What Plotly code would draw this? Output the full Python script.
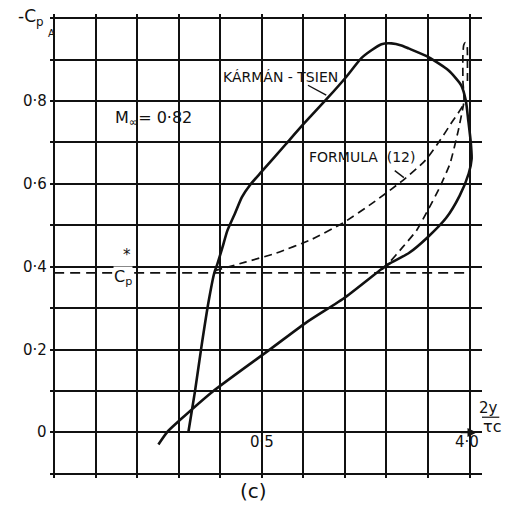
import plotly.graph_objects as go

# ---- data ----
kt_x = [0.323, 0.339, 0.354, 0.372, 0.385, 0.393, 0.405, 0.417, 0.435, 0.452, 0.472, 0.500,
        0.557, 0.600, 0.659, 0.703, 0.739, 0.763, 0.788, 0.812, 0.836, 0.853, 0.901, 0.949,
        0.980, 0.991, 0.997, 1.003, 1.005, 0.998, 0.976, 0.944, 0.898, 0.854, 0.806, 0.789,
        0.702, 0.605, 0.523, 0.382, 0.304, 0.273, 0.251]
kt_y = [0.000, 0.099, 0.203, 0.317, 0.383, 0.407, 0.446, 0.487, 0.528, 0.568, 0.598, 0.630,
        0.695, 0.744, 0.808, 0.858, 0.903, 0.922, 0.937, 0.939, 0.934, 0.927, 0.906, 0.874,
        0.838, 0.801, 0.753, 0.700, 0.660, 0.625, 0.571, 0.518, 0.470, 0.433, 0.407, 0.395,
        0.327, 0.264, 0.203, 0.099, 0.031, 0.002, -0.029]

f12_x = [0.385, 0.460, 0.535, 0.620, 0.696, 0.767, 0.839, 0.893, 0.929, 0.955, 0.986,
         0.984, 0.984, 0.986, 0.990, 0.994, 0.995, 0.995]
f12_y = [0.390, 0.411, 0.433, 0.466, 0.506, 0.554, 0.608, 0.656, 0.705, 0.745, 0.794,
         0.850, 0.910, 0.935, 0.941, 0.935, 0.890, 0.838]

f12b_x = [0.789, 0.806, 0.838, 0.872, 0.899, 0.928, 0.953, 0.973, 0.986]
f12b_y = [0.393, 0.409, 0.446, 0.487, 0.535, 0.591, 0.649, 0.729, 0.794]

cp_star = 0.385
x_span = [0.0, 1.0]

y_tick_vals = [0.0, 0.2, 0.4, 0.6, 0.8]
y_tick_text = ["0", "0·2", "0·4", "0·6", "0·8"]
x_tick_vals = [0.5, 0.995]
x_tick_text = ["0·5", "4·0"]

FONT = "DejaVu Sans"
INK = "#111111"

fig = go.Figure()

fig.add_trace(go.Scatter(x=x_span, y=[cp_star, cp_star], mode="lines",
                         line=dict(color=INK, width=1.8, dash="10px,6px"),
                         hoverinfo="skip", showlegend=False))
fig.add_trace(go.Scatter(x=kt_x, y=kt_y, mode="lines",
                         line=dict(color=INK, width=2.6, shape="spline", smoothing=0.6),
                         showlegend=False))
fig.add_trace(go.Scatter(x=f12_x, y=f12_y, mode="lines",
                         line=dict(color=INK, width=1.7, dash="8px,5px", shape="spline", smoothing=0.5),
                         showlegend=False))
fig.add_trace(go.Scatter(x=f12b_x, y=f12b_y, mode="lines",
                         line=dict(color=INK, width=1.7, dash="8px,5px", shape="spline", smoothing=0.5),
                         showlegend=False))

axis_common = dict(showgrid=True, gridcolor=INK, gridwidth=1.6, dtick=0.1, tick0=0,
                   zeroline=True, zerolinecolor=INK, zerolinewidth=1.8,
                   showticklabels=False, ticks="", showline=False, fixedrange=True)

fig.update_layout(
    width=519, height=515,
    margin=dict(l=50, r=37, t=14, b=37),
    paper_bgcolor="white", plot_bgcolor="white",
    xaxis=dict(range=[-0.01, 1.03], **axis_common),
    yaxis=dict(range=[-0.11, 1.01], **axis_common),
    font=dict(family=FONT, color=INK),
)

ann = []
for v, t in zip(y_tick_vals, y_tick_text):
    ann.append(dict(x=-0.002, xref="paper", y=v, yref="y", text=t, showarrow=False,
                    xanchor="right", yanchor="middle", font=dict(size=15, family=FONT)))
for v, t in zip(x_tick_vals, x_tick_text):
    ann.append(dict(x=v, xref="x", y=-0.024, yref="y", text=t, showarrow=False,
                    xanchor="center", yanchor="middle", font=dict(size=15, family=FONT)))

ann += [
    dict(x=0.546, y=0.857, xref="x", yref="y", text="KÁRMÁN - TSIEN", showarrow=False,
         font=dict(size=14, family=FONT)),
    dict(x=0.742, y=0.664, xref="x", yref="y", text="FORMULA  (12)", showarrow=False,
         font=dict(size=14, family=FONT)),
    dict(x=0.238, y=0.758, xref="x", yref="y", text="M<sub>∞</sub>= 0·82", showarrow=False,
         font=dict(size=16, family=FONT)),
    dict(x=0.166, y=0.374, xref="x", yref="y", text="C<sub>p</sub>", showarrow=False,
         bgcolor="white", borderpad=0, font=dict(size=16, family=FONT)),
    dict(x=0.176, y=0.428, xref="x", yref="y", text="*", showarrow=False,
         font=dict(size=15, family=FONT)),
    # axis labels
    dict(x=-0.044, y=0.992, xref="paper", yref="paper", text="-C<sub>p</sub>", showarrow=False,
         xanchor="center", yanchor="middle", font=dict(size=17, family=FONT)),
    dict(x=0.004, y=0.958, xref="paper", yref="paper", text="A", showarrow=False,
         xanchor="center", yanchor="middle", font=dict(size=10, family=FONT)),
    dict(x=1.016, y=0.150, xref="paper", yref="paper", text="2y", showarrow=False,
         xanchor="center", yanchor="middle", font=dict(size=15, family=FONT)),
    dict(x=1.023, y=0.110, xref="paper", yref="paper", text="τc", showarrow=False,
         xanchor="center", yanchor="middle", font=dict(size=16, family=FONT)),
    dict(x=0.47, y=-0.028, xref="paper", yref="paper", text="(c)", showarrow=False,
         xanchor="center", yanchor="middle", font=dict(size=20, family=FONT)),
    # arrow at the end of the x axis
    dict(x=1.017, y=0, xref="x", yref="y", ax=0.975, ay=0, axref="x", ayref="y",
         text="", showarrow=True, arrowhead=2, arrowsize=1.3, arrowwidth=1.4, arrowcolor=INK),
]
fig.update_layout(annotations=ann)

fig.add_shape(type="line", x0=0.611, y0=0.838, x1=0.655, y1=0.814, xref="x", yref="y",
              line=dict(color=INK, width=1.4))
fig.add_shape(type="line", x0=0.820, y0=0.632, x1=0.842, y1=0.615, xref="x", yref="y",
              line=dict(color=INK, width=1.4))
fig.add_shape(type="line", x0=1.0, y0=0.131, x1=1.04, y1=0.131, xref="paper", yref="paper",
              line=dict(color=INK, width=1.2))

fig.write_html("out.html", config={"displayModeBar": False},
               post_script="document.body.style.margin='0px';")
